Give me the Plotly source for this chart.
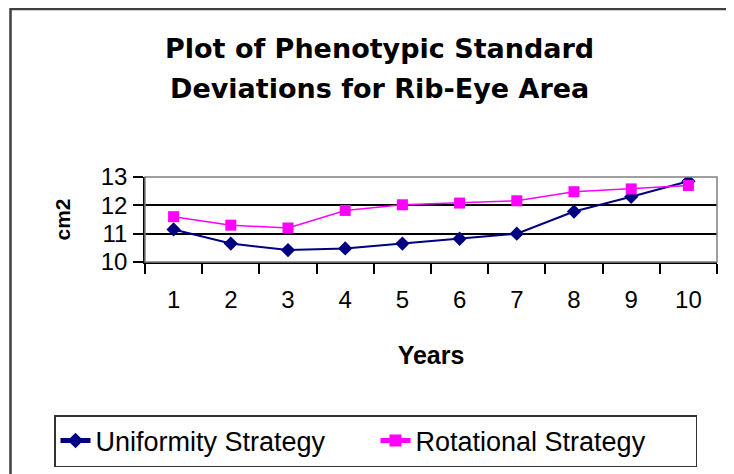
import plotly.graph_objects as go

years = ["1", "2", "3", "4", "5", "6", "7", "8", "9", "10"]
uniformity = [11.15, 10.65, 10.42, 10.48, 10.65, 10.82, 11.0, 11.78, 12.3, 12.85]
rotational = [11.6, 11.3, 11.2, 11.82, 12.02, 12.08, 12.16, 12.48, 12.58, 12.7]

title_lines = ["Plot of Phenotypic Standard", "Deviations for Rib-Eye Area"]

# page has an 8px body margin; figure fills the rest of the window
W, H = 726, 466
L, R, T, B = 137, 17, 169, 212
pw = W - L - R
ph = H - T - B


def px_x(p):
    return (p - L) / pw


def px_y(p):
    return (H - B - p) / ph


fig = go.Figure()
fig.add_trace(go.Scatter(
    x=years, y=uniformity, name="Uniformity Strategy", mode="lines+markers",
    line=dict(color="#000080", width=2),
    marker=dict(symbol="diamond", size=11, color="#000080"),
))
fig.add_trace(go.Scatter(
    x=years, y=rotational, name="Rotational Strategy", mode="lines+markers",
    line=dict(color="#FF00FF", width=1.5),
    marker=dict(symbol="square", size=11, color="#FF00FF"),
))

# outer chart border (extends beyond the visible image on right/bottom)
fig.add_shape(type="rect", xref="paper", yref="paper",
              x0=px_x(2.5), x1=px_x(760), y0=px_y(1), y1=px_y(520),
              line=dict(color="#404040", width=2.5), fillcolor="rgba(0,0,0,0)",
              layer="below")
# plot-area border (gray)
fig.add_shape(type="rect", xref="x domain", yref="y domain", x0=0, x1=1, y0=0, y1=1,
              line=dict(color="#808080", width=1.5), layer="above")

title_font = dict(family="DejaVu Sans, sans-serif", size=27, color="black", weight="bold")
for i, line in enumerate(title_lines):
    fig.add_annotation(
        text=line, showarrow=False, xref="paper", yref="paper",
        x=px_x(371), y=px_y(40 + 40 * i), xanchor="center", yanchor="middle",
        font=title_font,
    )

fig.update_layout(
    width=W, height=H,
    margin=dict(l=L, r=R, t=T, b=B, autoexpand=False),
    paper_bgcolor="white", plot_bgcolor="white",
    font=dict(family="Liberation Sans, Arial, sans-serif", color="black"),
    showlegend=True,
    legend=dict(
        orientation="h", xref="paper", yref="paper",
        x=px_x(46), xanchor="left", y=px_y(407), yanchor="top",
        bordercolor="#333333", borderwidth=1.5, bgcolor="white",
        font=dict(size=27, family="Liberation Sans, Arial, sans-serif"),
        itemsizing="constant", entrywidth=275, entrywidthmode="pixels",
    ),
    xaxis=dict(
        type="category", range=[-0.5, 9.5], tickson="boundaries",
        ticks="outside", ticklen=10, tickwidth=1.5, tickcolor="black",
        showline=True, linecolor="black", linewidth=1.5,
        showgrid=False, zeroline=False,
        tickfont=dict(size=24),
        ticklabelstandoff=15,
        title=dict(text="<b>Years</b>", font=dict(size=25), standoff=35),
        automargin=False,
    ),
    yaxis=dict(
        range=[10, 13], dtick=1, tick0=10,
        ticks="outside", ticklen=10, tickwidth=1.5, tickcolor="black",
        showline=True, linecolor="black", linewidth=1.5,
        showgrid=True, gridcolor="black", gridwidth=1.5, zeroline=False,
        tickfont=dict(size=24),
        ticklabelstandoff=1,
        title=dict(text="<b>cm2</b>", font=dict(size=21), standoff=24),
        automargin=False,
    ),
)

fig.write_html("out.html")
